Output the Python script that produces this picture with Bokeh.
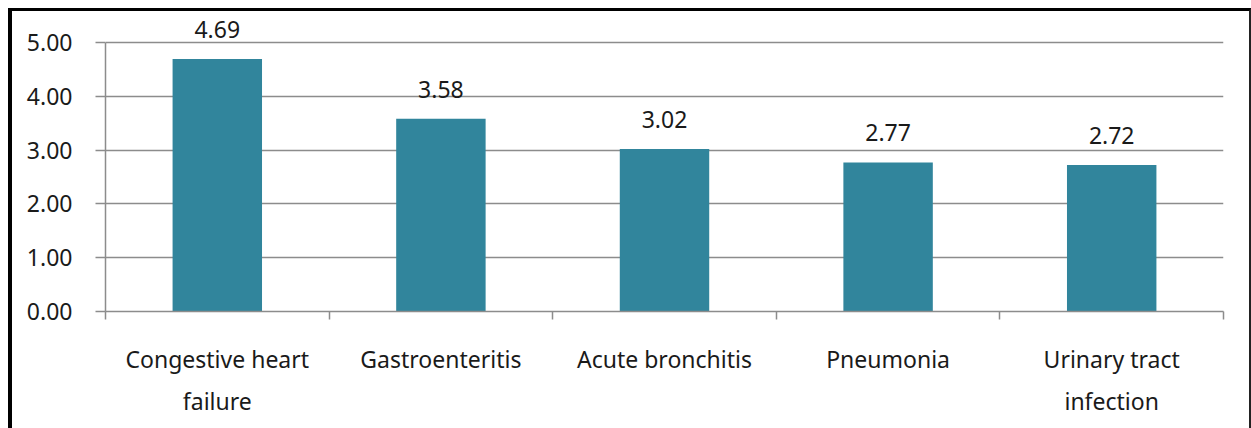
from bokeh.plotting import figure
from bokeh.layouts import column
from bokeh.models import (ColumnDataSource, FixedTicker, LinearAxis, LabelSet,
                          Range1d, NumeralTickFormatter)
from bokeh.core.properties import value
from bokeh.embed import file_html
from bokeh.resources import INLINE

categories = ["Congestive heart failure", "Gastroenteritis", "Acute bronchitis",
              "Pneumonia", "Urinary tract infection"]
label_line1 = ["Congestive heart", "Gastroenteritis", "Acute bronchitis",
               "Pneumonia", "Urinary tract"]
label_line2 = ["failure", "", "", "", "infection"]
values = [4.69, 3.58, 3.02, 2.77, 2.72]
value_labels = ["4.69", "3.58", "3.02", "2.77", "2.72"]
y_ticks = [0, 1, 2, 3, 4, 5]

FONT = "Noto Sans"
FS = "23px"
TXT = "#1a1a1a"
GRID = "#8c8c8c"
BAR = "#31859C"

n = len(categories)
centers = [i + 0.5 for i in range(n)]
bounds = list(range(n + 1))

src = ColumnDataSource(dict(x=centers, top=values, lab=value_labels))

p = figure(width=1237, height=417, output_backend="svg", toolbar_location=None,
           x_range=Range1d(0, n), y_range=Range1d(0, 5.5),
           min_border_left=93, min_border_right=26, min_border_top=4,
           min_border_bottom=117)
p.outline_line_color = None
p.background_fill_color = "white"
p.border_fill_color = "white"

p.vbar(x="x", top="top", width=0.4, bottom=0, source=src, color=BAR, line_color=None)

# y axis
ya = p.yaxis[0]
ya.ticker = FixedTicker(ticks=y_ticks)
ya.bounds = (0, 5)
ya.formatter = NumeralTickFormatter(format="0.00")
ya.axis_line_color = GRID
ya.axis_line_width = 1.5
ya.major_tick_line_color = GRID
ya.major_tick_line_width = 1.5
ya.major_tick_out = 10
ya.major_tick_in = 0
ya.minor_tick_line_color = None
ya.major_label_standoff = 23
ya.major_label_text_font = FONT
ya.major_label_text_font_size = FS
ya.major_label_text_color = TXT

p.ygrid.ticker = FixedTicker(ticks=y_ticks)
p.ygrid.grid_line_color = GRID
p.ygrid.grid_line_width = 1.5
p.xgrid.grid_line_color = None

# x axis: first line of labels + boundary ticks
xa = p.xaxis[0]
xa.ticker = FixedTicker(ticks=centers, minor_ticks=bounds)
xa.major_label_overrides = {c: l for c, l in zip(centers, label_line1)}
xa.axis_line_color = GRID
xa.axis_line_width = 1.5
xa.major_tick_line_color = None
xa.major_tick_out = 0
xa.major_tick_in = 0
xa.minor_tick_line_color = GRID
xa.minor_tick_line_width = 1.5
xa.minor_tick_out = 8
xa.minor_tick_in = 0
xa.major_label_standoff = 23
xa.major_label_text_font = FONT
xa.major_label_text_font_size = FS
xa.major_label_text_color = TXT

# second line of labels
xb = LinearAxis(ticker=FixedTicker(ticks=centers))
xb.major_label_overrides = {c: l for c, l in zip(centers, label_line2)}
xb.axis_line_color = None
xb.major_tick_line_color = None
xb.minor_tick_line_color = None
xb.major_tick_out = 0
xb.major_tick_in = 0
xb.major_label_standoff = 7
xb.major_label_text_font = FONT
xb.major_label_text_font_size = FS
xb.major_label_text_color = TXT
p.add_layout(xb, "below")

labels = LabelSet(x="x", y="top", text="lab", source=src, text_align="center",
                  text_baseline="alphabetic", y_offset=21, text_font=value(FONT),
                  text_font_size=FS, text_color=TXT)
p.add_layout(labels)

layout = column(p, styles={"margin-left": "8px", "margin-top": "8px",
                           "border-left": "4px solid black",
                           "border-top": "3px solid black",
                           "border-right": "2px solid #222222"})

open("out.html", "w").write(file_html(layout, INLINE))
